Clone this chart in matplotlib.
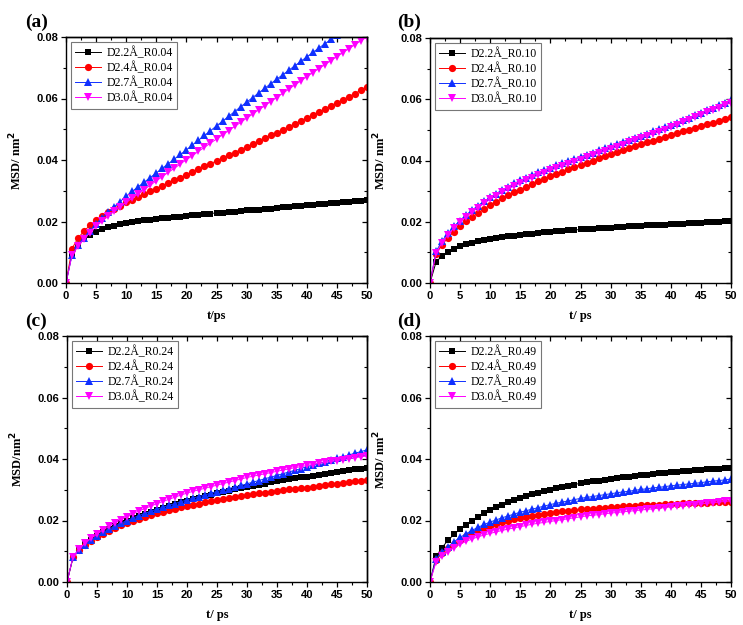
import matplotlib.pyplot as plt
from matplotlib.ticker import MultipleLocator

t = list(range(51))

# panel (a) R0.04
a_22 = [0, .0095, .0125, .0143, .0157, .0167, .0175, .0181, .0186, .0191, .0195,
        .0198, .0201, .0204, .0206, .0208, .0210, .0212, .0214, .0216, .0218,
        .0220, .0222, .0224, .0226, .0228, .0229, .0231, .0232, .0234, .0236,
        .0237, .0239, .0241, .0242, .0244, .0246, .0247, .0249, .0251, .0253,
        .0254, .0256, .0258, .0259, .0261, .0263, .0264, .0266, .0268, .0270]
a_24 = [0, .0112, .0146, .0169, .0188, .0204, .0218, .0230, .0241, .0252, .0262,
        .0271, .0280, .0289, .0298, .0307, .0316, .0325, .0334, .0343, .0352,
        .0361, .0370, .0379, .0388, .0397, .0406, .0415, .0424, .0433, .0442,
        .0452, .0461, .0470, .0480, .0489, .0498, .0508, .0517, .0527, .0536,
        .0546, .0556, .0566, .0576, .0586, .0596, .0606, .0616, .0627, .0638]
a_27 = [0, .0092, .0122, .0146, .0170, .0192, .0212, .0230, .0248, .0265, .0282,
        .0298, .0313, .0328, .0343, .0358, .0373, .0388, .0403, .0418, .0433,
        .0449, .0464, .0480, .0495, .0511, .0526, .0542, .0557, .0573, .0588,
        .0603, .0618, .0633, .0648, .0663, .0677, .0692, .0706, .0721, .0735,
        .0750, .0764, .0778, .0792, .0806, .0820, .0834, .0848, .0862, .0876]
a_30 = [0, .0090, .0120, .0143, .0164, .0184, .0201, .0217, .0233, .0248, .0262,
        .0276, .0290, .0304, .0318, .0332, .0346, .0360, .0373, .0387, .0401,
        .0414, .0428, .0441, .0455, .0468, .0482, .0495, .0509, .0522, .0536,
        .0549, .0563, .0576, .0590, .0603, .0617, .0630, .0644, .0657, .0671,
        .0684, .0697, .0710, .0723, .0736, .0749, .0762, .0775, .0788, .0800]

# panel (b) R0.10
b_22 = [0, .0068, .0089, .0102, .0112, .0120, .0126, .0131, .0136, .0140, .0143,
        .0146, .0149, .0152, .0154, .0157, .0159, .0161, .0163, .0165, .0167,
        .0169, .0170, .0172, .0173, .0175, .0176, .0177, .0179, .0180, .0181,
        .0182, .0184, .0185, .0186, .0187, .0188, .0189, .0190, .0191, .0192,
        .0193, .0194, .0195, .0196, .0197, .0198, .0199, .0200, .0202, .0203]
b_24 = [0, .0095, .0125, .0148, .0168, .0186, .0202, .0216, .0229, .0242, .0254,
        .0265, .0276, .0286, .0296, .0305, .0314, .0323, .0332, .0340, .0348,
        .0356, .0364, .0371, .0379, .0386, .0393, .0400, .0407, .0414, .0421,
        .0427, .0434, .0440, .0447, .0453, .0459, .0465, .0471, .0477, .0483,
        .0489, .0495, .0501, .0507, .0513, .0519, .0524, .0530, .0536, .0542]
b_27 = [0, .0103, .0137, .0163, .0185, .0204, .0222, .0238, .0253, .0267, .0280,
        .0292, .0304, .0315, .0325, .0335, .0344, .0353, .0361, .0369, .0377,
        .0384, .0391, .0398, .0405, .0412, .0419, .0426, .0433, .0440, .0447,
        .0454, .0461, .0468, .0475, .0481, .0488, .0495, .0502, .0509, .0516,
        .0524, .0532, .0540, .0548, .0556, .0564, .0572, .0580, .0588, .0597]
b_30 = [0, .0098, .0132, .0158, .0180, .0199, .0216, .0232, .0246, .0260, .0273,
        .0285, .0296, .0307, .0317, .0326, .0335, .0344, .0352, .0360, .0368,
        .0375, .0382, .0389, .0396, .0403, .0410, .0417, .0424, .0431, .0438,
        .0445, .0452, .0459, .0466, .0473, .0480, .0487, .0494, .0501, .0508,
        .0517, .0525, .0533, .0541, .0549, .0557, .0565, .0573, .0581, .0589]

# panel (c) R0.24
c_22 = [0, .0080, .0105, .0122, .0137, .0150, .0162, .0172, .0182, .0191, .0200,
        .0208, .0215, .0222, .0229, .0235, .0241, .0247, .0253, .0259, .0264,
        .0269, .0274, .0279, .0284, .0289, .0293, .0297, .0301, .0305, .0309,
        .0313, .0317, .0320, .0324, .0327, .0331, .0334, .0337, .0340, .0343,
        .0346, .0349, .0352, .0355, .0358, .0361, .0363, .0366, .0368, .0371]
c_24 = [0, .0080, .0104, .0120, .0134, .0146, .0157, .0167, .0176, .0184, .0192,
        .0199, .0206, .0212, .0218, .0223, .0228, .0233, .0238, .0243, .0247,
        .0251, .0255, .0259, .0263, .0266, .0270, .0273, .0276, .0279, .0282,
        .0285, .0288, .0291, .0293, .0296, .0298, .0301, .0303, .0305, .0307,
        .0310, .0313, .0315, .0318, .0320, .0323, .0325, .0328, .0330, .0333]
c_27 = [0, .0080, .0104, .0121, .0136, .0149, .0161, .0172, .0182, .0191, .0200,
        .0208, .0216, .0223, .0230, .0237, .0243, .0249, .0255, .0261, .0267,
        .0273, .0278, .0283, .0289, .0294, .0299, .0304, .0309, .0314, .0319,
        .0325, .0330, .0336, .0341, .0347, .0352, .0358, .0363, .0369, .0375,
        .0380, .0386, .0391, .0397, .0402, .0408, .0413, .0419, .0424, .0430]
c_30 = [0, .0082, .0107, .0126, .0142, .0156, .0169, .0181, .0192, .0203, .0213,
        .0222, .0231, .0239, .0247, .0255, .0262, .0269, .0276, .0283, .0289,
        .0295, .0300, .0305, .0310, .0315, .0320, .0325, .0330, .0335, .0340,
        .0344, .0348, .0352, .0356, .0360, .0364, .0368, .0372, .0375, .0379,
        .0382, .0386, .0389, .0392, .0395, .0398, .0401, .0404, .0407, .0410]

# panel (d) R0.49
d_22 = [0, .0083, .0112, .0136, .0155, .0172, .0186, .0199, .0211, .0224, .0235,
        .0244, .0252, .0259, .0267, .0274, .0280, .0285, .0290, .0295, .0300,
        .0305, .0309, .0313, .0317, .0321, .0324, .0327, .0330, .0333, .0336,
        .0339, .0341, .0343, .0345, .0347, .0349, .0351, .0353, .0355, .0357,
        .0359, .0360, .0362, .0363, .0365, .0366, .0367, .0369, .0370, .0372]
d_24 = [0, .0072, .0093, .0109, .0124, .0137, .0148, .0158, .0167, .0175, .0183,
        .0189, .0195, .0200, .0205, .0209, .0213, .0216, .0219, .0222, .0225,
        .0228, .0230, .0232, .0234, .0236, .0238, .0239, .0241, .0242, .0244,
        .0245, .0246, .0247, .0248, .0249, .0250, .0251, .0252, .0253, .0254,
        .0255, .0256, .0256, .0257, .0258, .0258, .0259, .0259, .0260, .0260]
d_27 = [0, .0075, .0097, .0115, .0131, .0145, .0157, .0168, .0178, .0187, .0195,
        .0202, .0209, .0215, .0221, .0227, .0232, .0237, .0242, .0247, .0252,
        .0256, .0260, .0264, .0268, .0272, .0275, .0278, .0281, .0284, .0287,
        .0290, .0293, .0295, .0298, .0301, .0303, .0306, .0308, .0310, .0313,
        .0315, .0317, .0319, .0321, .0323, .0326, .0328, .0330, .0332, .0335]
d_30 = [0, .0065, .0085, .0099, .0112, .0123, .0132, .0140, .0147, .0153, .0158,
        .0163, .0168, .0172, .0176, .0180, .0184, .0188, .0191, .0194, .0197,
        .0200, .0203, .0206, .0209, .0212, .0215, .0217, .0219, .0222, .0224,
        .0226, .0228, .0230, .0232, .0234, .0236, .0238, .0240, .0242, .0244,
        .0246, .0248, .0250, .0252, .0254, .0256, .0258, .0260, .0262, .0264]

dists = ['D2.2Å', 'D2.4Å', 'D2.7Å', 'D3.0Å']
colors = ['black', '#FF0000', '#1030FF', '#FF00FF']
markers = ['s', 'o', '^', 'v']
msizes = [4.8, 5.2, 6, 6]

panels = [
    ('(a)', 'R0.04', [a_22, a_24, a_27, a_30], 't/ps', 'MSD/ nm$^\\mathbf{2}$',
     [66, 37, 367, 283], (25, 27)),
    ('(b)', 'R0.10', [b_22, b_24, b_27, b_30], 't/ ps', 'MSD/ nm$^\\mathbf{2}$',
     [430, 38, 731, 283], (397, 27)),
    ('(c)', 'R0.24', [c_22, c_24, c_27, c_30], 't/ ps', 'MSD/nm$^\\mathbf{2}$',
     [67, 336, 367, 582], (25, 326)),
    ('(d)', 'R0.49', [d_22, d_24, d_27, d_30], 't/ ps', 'MSD/ nm$^\\mathbf{2}$',
     [430, 336, 731, 582], (397, 326)),
]

W, H = 743, 625
fig = plt.figure(figsize=(W / 100, H / 100), dpi=100)

for tag, r, series, xl, yl, box, lab in panels:
    x0, y0, x1, y1 = box
    ax = fig.add_axes([x0 / W, 1 - y1 / H, (x1 - x0) / W, (y1 - y0) / H])
    for ys, d, c, m, ms in zip(series, dists, colors, markers, msizes):
        ax.plot(t, ys, color=c, marker=m, markersize=ms, linewidth=0.7,
                markeredgewidth=0, label=d + '_' + r)
    ax.set_xlim(0, 50)
    ax.set_ylim(0, 0.08)
    ax.xaxis.set_major_locator(MultipleLocator(5))
    ax.xaxis.set_minor_locator(MultipleLocator(2.5))
    ax.yaxis.set_major_locator(MultipleLocator(0.02))
    ax.yaxis.set_minor_locator(MultipleLocator(0.01))
    ax.yaxis.set_major_formatter(plt.FuncFormatter(lambda v, p: '%.2f' % v))
    # bottom/left ticks point out, top/right ticks point in
    ax.tick_params(which='both', direction='out', labelsize=8, pad=2)
    ax.tick_params(which='major', length=3.5, width=0.9)
    ax.tick_params(which='minor', length=2, width=0.8)
    for lbl in ax.get_xticklabels() + ax.get_yticklabels():
        lbl.set_fontfamily('Liberation Sans')
        lbl.set_fontweight('bold')
    top = ax.secondary_xaxis('top')
    right = ax.secondary_yaxis('right')
    for sec in (top, right):
        sec.tick_params(which='both', direction='in', labelleft=False,
                        labelright=False, labeltop=False, labelbottom=False)
        sec.tick_params(which='major', length=3.5, width=0.9)
        sec.tick_params(which='minor', length=2, width=0.8)
        for s in sec.spines.values():
            s.set_linewidth(1.0)
    top.xaxis.set_major_locator(MultipleLocator(5))
    top.xaxis.set_minor_locator(MultipleLocator(2.5))
    right.yaxis.set_major_locator(MultipleLocator(0.02))
    right.yaxis.set_minor_locator(MultipleLocator(0.01))
    for s in ax.spines.values():
        s.set_linewidth(1.0)
    ax.set_xlabel(xl, fontfamily='Liberation Serif', fontweight='bold',
                  fontsize=9, labelpad=7)
    ax.set_ylabel(yl, fontfamily='Liberation Serif', fontweight='bold',
                  fontsize=9, labelpad=9)
    leg = ax.legend(loc='upper left', prop={'family': 'Liberation Serif', 'size': 8.5},
                    frameon=True, fancybox=False, edgecolor='#555555',
                    borderaxespad=0.4, handlelength=2.2, handletextpad=0.4,
                    labelspacing=0.2, borderpad=0.4)
    leg.get_frame().set_linewidth(0.8)
    fig.text(lab[0] / W, 1 - lab[1] / H, tag, fontfamily='Liberation Serif',
             fontweight='bold', fontsize=14, ha='left', va='baseline')

fig.savefig('out.png', dpi=100)
